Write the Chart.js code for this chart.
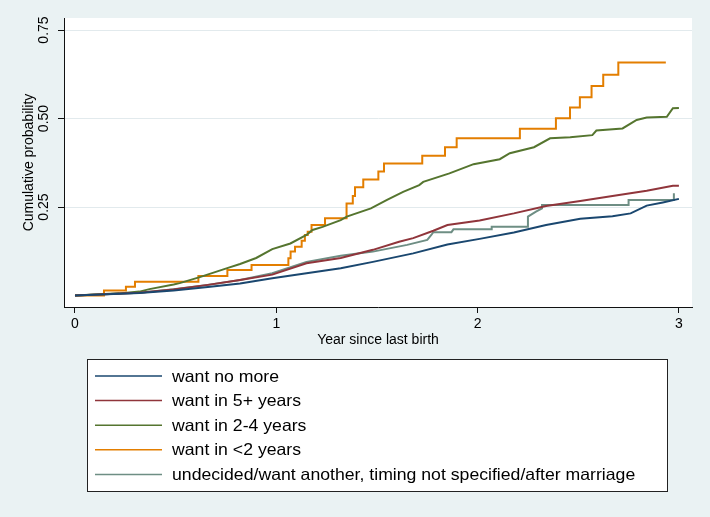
<!DOCTYPE html>
<html>
<head>
<meta charset="utf-8">
<script src="https://cdn.jsdelivr.net/npm/chart.js@4/dist/chart.umd.min.js"></script>
<style>
  body { margin: 0; background: #eaf2f3; }
  #wrap { width: 710px; height: 517px; }
</style>
</head>
<body>
<div id="wrap"><canvas id="chart" width="710" height="517"></canvas></div>
<script>
"use strict";

const FONT = "'Liberation Sans', Arial, Helvetica, sans-serif";

// tick values
const xTicks = [0, 1, 2, 3];
const yTicks = [0.25, 0.5, 0.75];

// series labels and colours (Stata s2color)
const labels = [
    "want no more",
    "want in 5+ years",
    "want in 2-4 years",
    "want in <2 years",
    "undecided/want another, timing not specified/after marriage"
];
const colors = ["#1a476f", "#90353b", "#55752f", "#e37e00", "#6e8e84"];

// want no more
const tNoMore = [0, 0.32, 0.49, 0.66, 0.82, 0.98, 1.15, 1.32, 1.48, 1.68, 1.85, 2.01, 2.18, 2.34, 2.51, 2.67, 2.76, 2.84, 2.92, 3.00];
const pNoMore = [0, 0.007, 0.014, 0.024, 0.034, 0.049, 0.063, 0.077, 0.095, 0.119, 0.144, 0.160, 0.178, 0.199, 0.217, 0.224, 0.232, 0.254, 0.263, 0.273];

// want in 5+ years
const t5Plus = [0, 0.32, 0.49, 0.66, 0.82, 0.98, 1.15, 1.32, 1.48, 1.61, 1.68, 1.78, 1.85, 2.01, 2.18, 2.34, 2.51, 2.67, 2.84, 2.97, 3.00];
const p5Plus = [0, 0.008, 0.017, 0.030, 0.044, 0.059, 0.091, 0.106, 0.129, 0.152, 0.162, 0.183, 0.199, 0.212, 0.232, 0.253, 0.267, 0.281, 0.296, 0.310, 0.310];

// want in 2-4 years
const t2to4 = [0, 0.22, 0.32, 0.37, 0.49, 0.52, 0.62, 0.76, 0.82, 0.90, 0.98, 1.07, 1.15, 1.18, 1.23, 1.32, 1.35, 1.47, 1.55, 1.63, 1.71, 1.73, 1.86, 1.98, 2.11, 2.16, 2.28, 2.36, 2.46, 2.57, 2.59, 2.72, 2.79, 2.84, 2.94, 2.97, 3.00];
const p2to4 = [0, 0.006, 0.011, 0.018, 0.031, 0.035, 0.052, 0.078, 0.089, 0.106, 0.131, 0.147, 0.171, 0.185, 0.194, 0.213, 0.223, 0.246, 0.270, 0.293, 0.312, 0.321, 0.345, 0.371, 0.385, 0.402, 0.419, 0.444, 0.447, 0.453, 0.466, 0.472, 0.496, 0.503, 0.505, 0.529, 0.530];

// want in <2 years (jump times)
const tLt2 = [0, 0.144, 0.253, 0.298, 0.613, 0.757, 0.877, 1.060, 1.071, 1.093, 1.126, 1.142, 1.156, 1.175, 1.242, 1.349, 1.380, 1.391, 1.432, 1.507, 1.535, 1.725, 1.838, 1.896, 2.210, 2.389, 2.459, 2.508, 2.566, 2.624, 2.699, 2.935];
const pLt2 = [0, 0.014, 0.025, 0.039, 0.055, 0.072, 0.086, 0.105, 0.124, 0.138, 0.155, 0.171, 0.180, 0.199, 0.218, 0.260, 0.281, 0.306, 0.328, 0.350, 0.373, 0.395, 0.419, 0.444, 0.471, 0.501, 0.531, 0.560, 0.592, 0.624, 0.658, 0.658];

// undecided / timing not specified
const tUndec = [0, 0.32, 0.49, 0.66, 0.82, 0.98, 1.15, 1.32, 1.48, 1.65, 1.75, 1.77, 1.78, 1.87, 1.88, 2.07, 2.07, 2.25, 2.25, 2.29, 2.32, 2.32, 2.75, 2.75, 2.975, 2.975];
const pUndec = [0, 0.008, 0.018, 0.030, 0.044, 0.063, 0.095, 0.112, 0.124, 0.143, 0.157, 0.171, 0.179, 0.179, 0.187, 0.187, 0.194, 0.194, 0.223, 0.237, 0.246, 0.256, 0.256, 0.270, 0.270, 0.289];

function pts(t, p) {
    return t.map((x, i) => ({ x: x, y: p[i] }));
}

const series = [
    { t: tNoMore, p: pNoMore, stepped: false },
    { t: t5Plus, p: p5Plus, stepped: false },
    { t: t2to4, p: p2to4, stepped: false },
    { t: tLt2, p: pLt2, stepped: "before" },
    { t: tUndec, p: pUndec, stepped: false }
];

const datasets = series.map((s, i) => ({
    label: labels[i],
    data: pts(s.t, s.p),
    borderColor: colors[i],
    borderWidth: 2,
    pointRadius: 0,
    stepped: s.stepped,
    tension: 0,
    fill: false
}));

// backgrounds: light outer, white plot region
const bgPlugin = {
    id: "bg",
    beforeDraw(chart) {
        const ctx = chart.ctx, a = chart.chartArea;
        ctx.save();
        ctx.fillStyle = "#eaf2f3";
        ctx.fillRect(0, 0, chart.width, chart.height);
        ctx.fillStyle = "#ffffff";
        ctx.fillRect(a.left, a.top, a.right - a.left, a.bottom - a.top);
        ctx.restore();
    }
};

// Stata-style boxed legend under the plot
const boxLegend = {
    id: "boxLegend",
    afterDraw(chart) {
        const ctx = chart.ctx;
        const box = { x: 87.5, y: 359.5, w: 580, h: 132 };
        ctx.save();
        ctx.fillStyle = "#ffffff";
        ctx.fillRect(box.x, box.y, box.w, box.h);
        ctx.strokeStyle = "#222";
        ctx.lineWidth = 1;
        ctx.strokeRect(box.x, box.y, box.w, box.h);
        ctx.font = "16.5px " + FONT;
        ctx.textBaseline = "middle";
        ctx.fillStyle = "#000";
        chart.data.datasets.forEach((ds, i) => {
            const y = 376 + i * 24.6;
            ctx.strokeStyle = ds.borderColor;
            ctx.lineWidth = 1.5;
            ctx.beginPath();
            ctx.moveTo(95, y);
            ctx.lineTo(162, y);
            ctx.stroke();
            // text in the reference is a little wider than Liberation Sans
            ctx.save();
            ctx.translate(172, y + 1);
            ctx.scale(1.07, 1);
            ctx.fillText(ds.label, 0, 0);
            ctx.restore();
        });
        ctx.restore();
    }
};

new Chart(document.getElementById("chart"), {
    type: "line",
    data: { datasets: datasets },
    options: {
        responsive: false,
        animation: false,
        events: [],
        layout: { padding: { left: 12, top: 18, right: 18, bottom: 166 } },
        plugins: {
            legend: { display: false },
            tooltip: { enabled: false }
        },
        scales: {
            x: {
                type: "linear",
                min: -0.0546,
                max: 3.065,
                afterBuildTicks: scale => { scale.ticks = xTicks.map(v => ({ value: v })); },
                afterFit: scale => { scale.height = 44; },
                grid: { drawOnChartArea: false, drawTicks: true, tickLength: 6, tickColor: "#111", lineWidth: 1 },
                border: { display: true, color: "#111", width: 1 },
                ticks: { color: "#000", padding: 3, maxRotation: 0, font: { size: 14, family: FONT } },
                title: { display: true, text: "Year since last birth", color: "#000", padding: { top: 0, bottom: 2 }, font: { size: 14, family: FONT } }
            },
            y: {
                type: "linear",
                min: -0.0325,
                max: 0.784,
                afterBuildTicks: scale => { scale.ticks = yTicks.map(v => ({ value: v })); },
                afterFit: scale => { scale.width = 52; },
                grid: { drawOnChartArea: true, color: "#e2eaed", drawTicks: true, tickLength: 6, tickColor: "#111", lineWidth: 1 },
                border: { display: true, color: "#111", width: 1 },
                ticks: {
                    color: "#000",
                    padding: 0,
                    minRotation: 90,
                    maxRotation: 90,
                    crossAlign: "center",
                    font: { size: 14, family: FONT },
                    callback: v => v.toFixed(2)
                },
                title: { display: true, text: "Cumulative probability", color: "#000", padding: { top: 9, bottom: 0 }, font: { size: 14, family: FONT } }
            }
        }
    },
    plugins: [bgPlugin, boxLegend]
});
</script>
</body>
</html>
